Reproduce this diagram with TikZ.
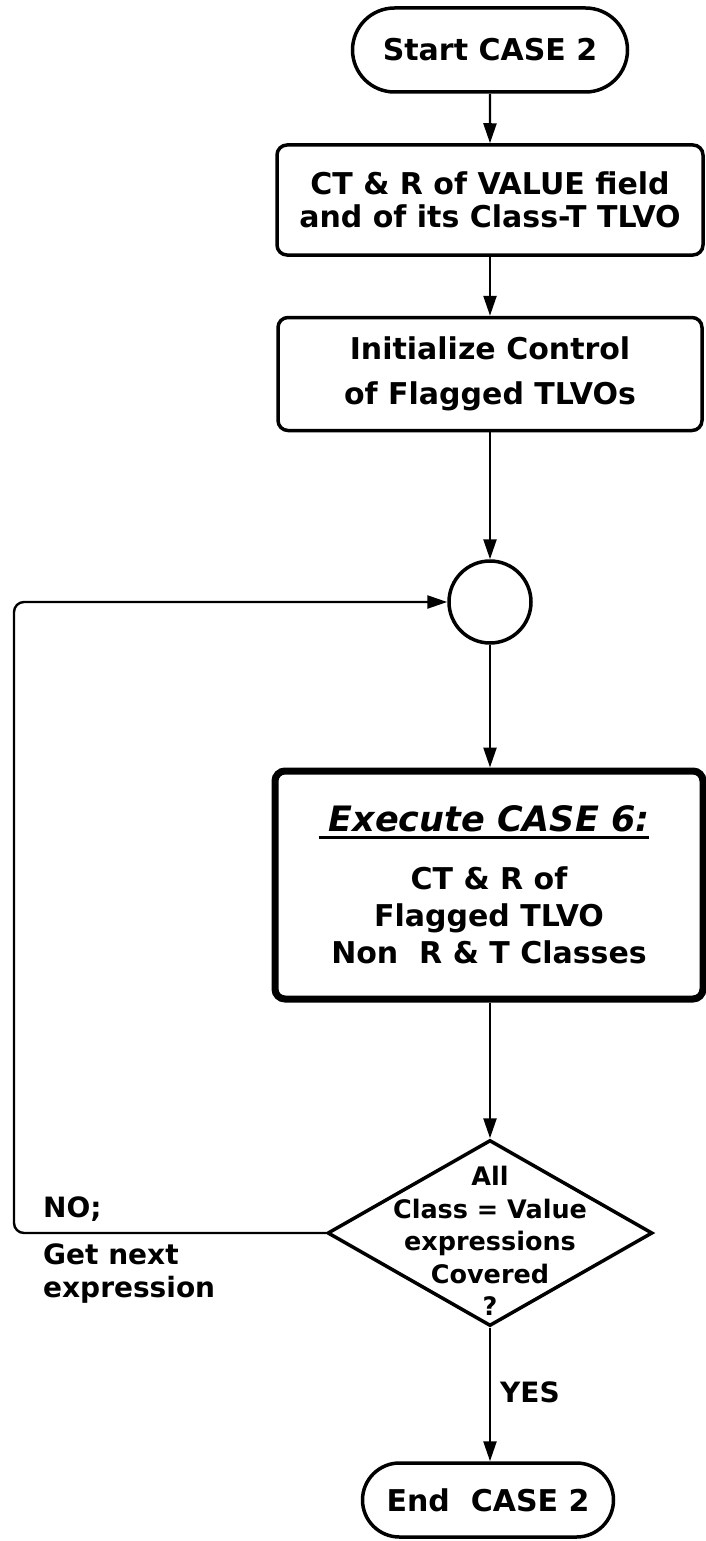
\documentclass[tikz,border=0pt]{standalone}
\usepackage{fontspec}
\setmainfont{DejaVu Sans}
\usetikzlibrary{arrows.meta,shapes.geometric,shapes.misc}
\newcommand\myul[1]{\setbox0=\hbox{#1}\rlap{\hspace{-10pt}\rule[-7pt]{\dimexpr\wd0+10pt\relax}{2.5pt}}\box0}
\begin{document}
\begin{tikzpicture}[x=1pt,y=-1pt,
  conn/.style={line width=2.4pt,-{Triangle[length=20pt,width=13pt]}},
  term/.style={draw,line width=3.5pt,rounded rectangle,inner sep=0pt,font=\fontsize{30}{33}\selectfont\bfseries},
  box/.style={draw,line width=3.5pt,rounded corners=10pt,inner sep=0pt,align=center,font=\fontsize{30}{33}\selectfont\bfseries},
  lbl/.style={inner sep=0pt,font=\fontsize{28}{33}\selectfont\bfseries}]
\useasboundingbox (0,0) rectangle (705,1541);
\node[term, minimum width=275pt, minimum height=84pt] (start) at (490,50) {Start CASE 2};
\node[box, minimum width=426pt, minimum height=110pt] (b1) at (490,200) {CT \& R of VALUE field\\and of its Class-T TLVO};
\node[box, minimum width=424pt, minimum height=113pt, font=\fontsize{30}{45}\selectfont\bfseries] (b2) at (490,374) {Initialize Control\\of Flagged TLVOs};
\node[draw, circle, line width=3.5pt, minimum size=82pt, inner sep=0pt] (circ) at (490,602) {};
\node[box, line width=7pt, minimum width=428pt, minimum height=228pt, font=\fontsize{30}{37}\selectfont\bfseries] (exec) at (489,885) {{\fontsize{35}{37}\selectfont\itshape\myul{Execute CASE 6:}}\\[21pt]CT \& R of\\Flagged TLVO\\Non\ \ R \& T Classes};
\node[draw, diamond, line width=3.5pt, minimum width=325pt, minimum height=186pt, inner sep=0pt] (dec) at (490,1233) {};
\node[align=center, inner sep=0pt, font=\fontsize{25.5}{32.5}\selectfont\bfseries] (dtext) at (490,1241) {All\\Class = Value\\expressions\\Covered\\?};
\node[term, minimum width=251pt, minimum height=74pt] (end) at (488,1500) {End\ \ CASE 2};
\node[lbl, anchor=west] (no) at (43,1209) {NO;};
\node[lbl, anchor=west, align=left] (gn) at (43,1274) {Get next\\expression};
\node[lbl, anchor=west] (yes) at (500,1392) {YES};
\coordinate (lc) at (14,900);
\draw[conn] (start) -- (b1);
\draw[conn] (b1) -- (b2);
\draw[conn] (b2) -- (circ);
\draw[conn] (circ.south) -- (circ.south |- exec.north);
\draw[conn] (exec.south -| dec.north) -- (dec.north);
\draw[conn] (dec.south) -- (dec.south |- end.north);
\draw[conn, rounded corners=10pt] (dec.west) -| (lc) |- (circ.west);
\end{tikzpicture}
\end{document}
